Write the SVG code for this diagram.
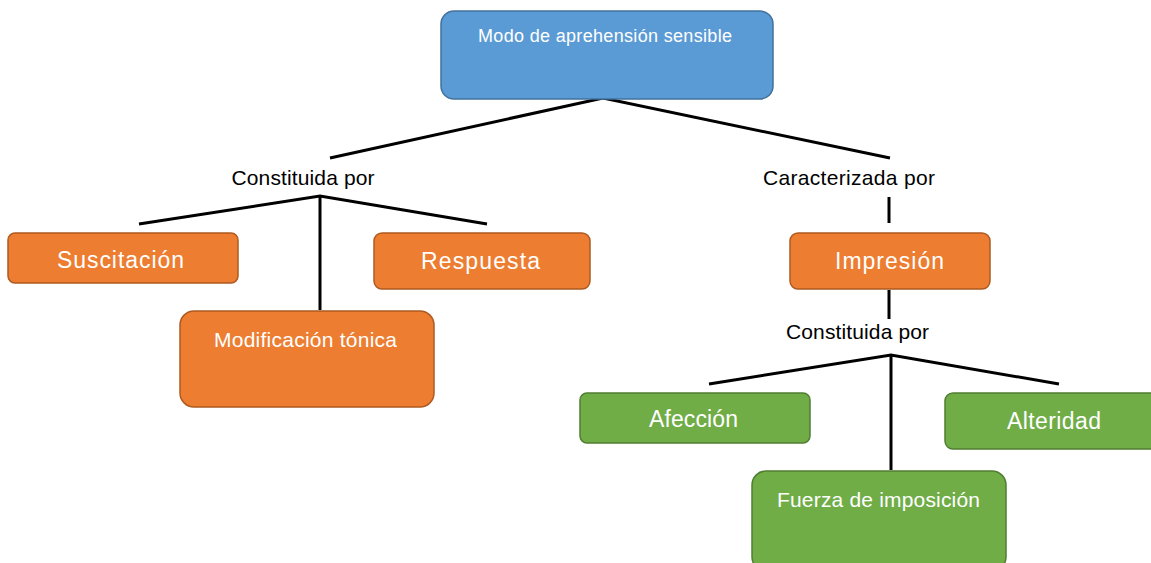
<svg xmlns="http://www.w3.org/2000/svg" width="1151" height="563" viewBox="0 0 1151 563">
<style>
.blue{fill:#5B9BD5;stroke:#41719C;stroke-width:1.5}
.orange{fill:#ED7D31;stroke:#AE5A21;stroke-width:1.5}
.green{fill:#70AD47;stroke:#507E32;stroke-width:1.5}
.t{font-family:"Liberation Sans",Arial,sans-serif;fill:#fff;text-anchor:middle}
.lbl{font-family:"Liberation Sans",Arial,sans-serif;fill:#000;text-anchor:middle;font-size:21px}
.conn{stroke:#000;stroke-width:3;fill:none}
</style>
<rect width="1151" height="563" fill="#fff"/>
<g id="connectors">
<polyline class="conn" points="330,158 603,98 890,158"/>
<polyline class="conn" points="139,224 320,196 487,224"/>
<line class="conn" x1="320" y1="196" x2="320" y2="310"/>
<line class="conn" x1="889" y1="197" x2="889" y2="223"/>
<line class="conn" x1="889" y1="290" x2="889" y2="319"/>
<polyline class="conn" points="709,384 891,355 1059,384"/>
<line class="conn" x1="891" y1="355" x2="891" y2="470"/>
</g>
<g id="n-modo">
<rect class="blue" x="441" y="11" width="332" height="88" rx="13"/>
<text class="t" x="605" y="42" font-size="18" textLength="254">Modo de aprehensión sensible</text>
</g>
<g id="l-constituida1"><text class="lbl" x="303" y="185" textLength="143">Constituida por</text></g>
<g id="l-caracterizada"><text class="lbl" x="849" y="185" textLength="172">Caracterizada por</text></g>
<g id="n-suscitacion">
<rect class="orange" x="8" y="233" width="230" height="50" rx="7"/>
<text class="t" x="120.5" y="268" font-size="23" textLength="127">Suscitación</text>
</g>
<g id="n-respuesta">
<rect class="orange" x="374" y="233" width="216" height="56" rx="8"/>
<text class="t" x="480.5" y="269" font-size="23" textLength="119">Respuesta</text>
</g>
<g id="n-impresion">
<rect class="orange" x="790" y="233" width="200" height="56" rx="8"/>
<text class="t" x="889.5" y="269" font-size="23" textLength="109">Impresión</text>
</g>
<g id="n-modificacion">
<rect class="orange" x="180" y="311" width="254" height="96" rx="14"/>
<text class="t" x="305.5" y="347" font-size="21" textLength="183">Modificación tónica</text>
</g>
<g id="l-constituida2"><text class="lbl" x="857.5" y="339" textLength="143">Constituida por</text></g>
<g id="n-afeccion">
<rect class="green" x="580" y="393" width="230" height="50" rx="7"/>
<text class="t" x="693.5" y="427" font-size="23" textLength="89">Afección</text>
</g>
<g id="n-alteridad">
<rect class="green" x="945" y="393" width="215" height="56" rx="8"/>
<text class="t" x="1054" y="429" font-size="23" textLength="94">Alteridad</text>
</g>
<g id="n-fuerza">
<rect class="green" x="752" y="471" width="254" height="100" rx="14"/>
<text class="t" x="878.5" y="507" font-size="21" textLength="203">Fuerza de imposición</text>
</g>
</svg>
